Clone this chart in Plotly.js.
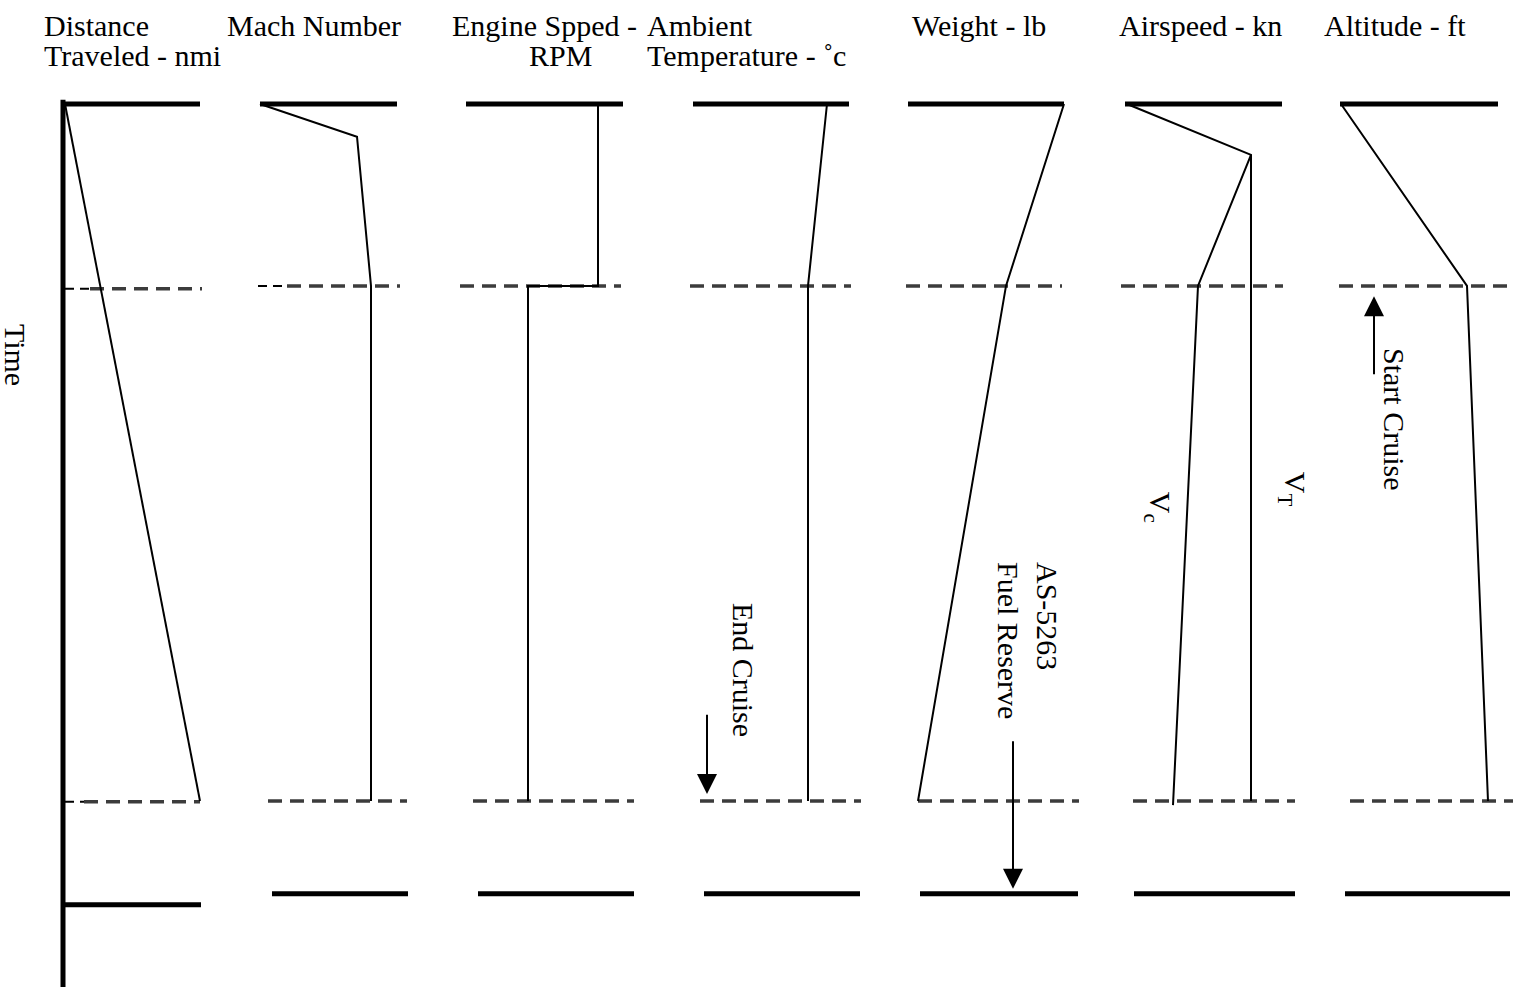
<!DOCTYPE html>
<html>
<head>
<meta charset="utf-8">
<script src="https://cdn.plot.ly/plotly-3.0.1.min.js"></script>
<style>
  body { margin: 0; background: #fff; }
  #plotArea { width: 1513px; height: 987px; }
</style>
</head>
<body>
<div id="plotArea"></div>
<script>
// time runs down the page: 0 = start line, 1 = end of cruise
var tCruise = 0.261;
var tEnd = 1.0;

// curve levels (arbitrary units from each panel's left edge) vs time
var distLevel = [3, 138];
var distTime = [0, 1.0];
var machLevel = [0, 97, 111, 111];
var machTime = [0, 0.047, 0.261, 1.0];
var rpmLevel = [132, 132, 62, 62];
var rpmTime = [0, 0.261, 0.261, 1.0];
var tempLevel = [134, 115, 115];
var tempTime = [0, 0.261, 1.0];
var weightLevel = [155, 97, 9];
var weightTime = [0, 0.261, 1.0];
var vtLevel = [2, 126, 126];
var vtTime = [0, 0.073, 1.0];
var vcLevel = [126, 73, 48];
var vcTime = [0.073, 0.261, 1.006];
var altLevel = [0, 126, 147];
var altTime = [0, 0.261, 1.0];

// panel headers
var headLine1 = ["Distance", "Mach Number", "Engine Spped -", "Ambient", "Weight - lb", "Airspeed - kn", "Altitude - ft"];
var headLine2 = ["Traveled - nmi", "", "RPM", "Temperature - ˚c", "", "", ""];

// panel layout (page units)
var panelOrigin = [62, 260, 466, 693, 909, 1125, 1341];
var headX = [42, 225, 450, 645, 910, 1117, 1322];
var head2X = [42, 0, 527, 645, 0, 0, 0];
var topSpan = [[0, 138], [0, 137], [0, 157], [0, 156], [-1, 155], [0, 157], [-1, 157]];
var cruiseSpan = [[28, 140], [27, 140], [-6, 155], [-3, 158], [-3, 153], [-4, 158], [-2, 172]];
var cruiseT = [0.265, 0.261, 0.261, 0.261, 0.261, 0.261, 0.261];
var endSpan = [[22, 138], [8, 147], [7, 168], [7, 168], [9, 170], [8, 170], [9, 172]];
var endT = [1.001, 1.0, 1.0, 1.0, 1.0, 1.0, 1.0];
var bottomSpan = [[0, 139], [12, 148], [12, 168], [11, 167], [11, 169], [9, 170], [4, 169]];
var bottomT = [1.149, 1.133, 1.133, 1.133, 1.133, 1.133, 1.133];

// event arrows: panel, level, tail time, tip time
var arrowPanel = [3, 4, 6];
var arrowLevel = [14, 104, 33];
var arrowTail = [0.874, 0.912, 0.390];
var arrowTip = [0.990, 1.126, 0.276];

var serif = "Liberation Serif, Times New Roman, serif";
var traces = [];

function seg(p, levels, times, width, color, dash) {
    traces.push({
        x: levels.map(function (v) { return panelOrigin[p] + v; }),
        y: times,
        mode: "lines",
        line: {color: color, width: width, dash: dash || "solid"},
        hoverinfo: "skip"
    });
}

for (var p = 0; p < 7; p++) {
    seg(p, topSpan[p], [0, 0], 5, "#000");
    seg(p, cruiseSpan[p], [cruiseT[p], cruiseT[p]], 3.5, "#3c3c3c", "14px,8px");
    seg(p, endSpan[p], [endT[p], endT[p]], 3.5, "#3c3c3c", "14px,8px");
    seg(p, bottomSpan[p], [bottomT[p], bottomT[p]], 5, "#000");
}
// thin black dash heads
seg(0, [3, 28], [0.265, 0.265], 2, "#000", "9px,6px");
seg(0, [3, 22], [1.001, 1.001], 2, "#000", "9px,6px");
seg(1, [-2, 27], [0.261, 0.261], 2, "#000", "9px,6px");

// time axis
seg(0, [1, 1], [-0.006, 1.267], 5, "#000");

seg(0, distLevel, distTime, 2, "#000");
seg(1, machLevel, machTime, 2, "#000");
seg(2, rpmLevel, rpmTime, 2, "#000");
seg(3, tempLevel, tempTime, 2, "#000");
seg(4, weightLevel, weightTime, 2, "#000");
seg(5, vtLevel, vtTime, 2, "#000");
seg(5, vcLevel, vcTime, 2, "#000");
seg(6, altLevel, altTime, 2, "#000");

var annotations = [];
function label(x, y, text, angle, anchor, align) {
    annotations.push({
        x: x, y: y, xref: "x", yref: "y", text: text, showarrow: false,
        textangle: angle || 0, xanchor: anchor || "center", yanchor: "middle",
        align: align || "center",
        font: {family: serif, size: 30, color: "#000"}
    });
}

for (var a = 0; a < arrowPanel.length; a++) {
    var ax = panelOrigin[arrowPanel[a]] + arrowLevel[a];
    annotations.push({
        x: ax, y: arrowTip[a], ax: ax, ay: arrowTail[a],
        xref: "x", yref: "y", axref: "x", ayref: "y", text: "",
        showarrow: true, arrowhead: 2, arrowsize: 2, arrowwidth: 2,
        arrowcolor: "#000", standoff: 0
    });
}

for (var i = 0; i < 7; i++) {
    label(headX[i], -0.112, headLine1[i], 0, "left");
    if (headLine2[i]) label(head2X[i], -0.069, headLine2[i], 0, "left");
}
label(15, 0.36, "Time", 90);
label(panelOrigin[3] + 50, 0.812, "End Cruise", 90);
label(panelOrigin[4] + 119, 0.769, "AS-5263<br>Fuel Reserve", 90, "center", "left");
label(panelOrigin[5] + 168, 0.552, "V<sub>T</sub>", 90);
label(panelOrigin[5] + 33, 0.578, "V<sub>c</sub>", 90);
label(panelOrigin[6] + 54, 0.452, "Start Cruise", 90);

var layout = {
    width: 1513,
    height: 987,
    margin: {l: 0, r: 0, t: 0, b: 0},
    paper_bgcolor: "#fff",
    plot_bgcolor: "#fff",
    showlegend: false,
    xaxis: {range: [0, 1513], visible: false, fixedrange: true},
    yaxis: {range: [1.2669, -0.1492], visible: false, fixedrange: true},
    annotations: annotations
};

Plotly.newPlot("plotArea", traces, layout, {staticPlot: true, displayModeBar: false});
</script>
</body>
</html>
